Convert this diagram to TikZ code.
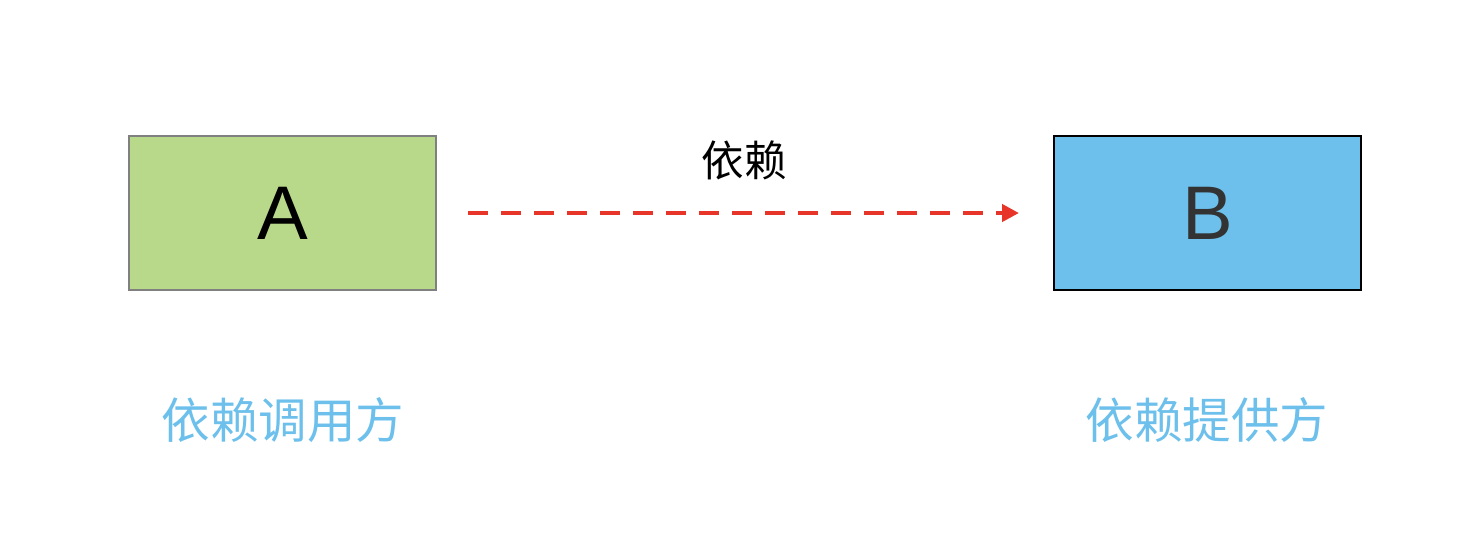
\documentclass[tikz,border=0pt]{standalone}
\usepackage{fontspec}
\setmainfont{Liberation Sans}
\newfontfamily\cjk{Noto Sans CJK SC}
\usetikzlibrary{arrows.meta}
\definecolor{agreen}{HTML}{B9D98A}
\definecolor{bblue}{HTML}{6DC0EB}
\definecolor{lblue}{HTML}{6DC0EB}
\definecolor{ared}{HTML}{E8352A}
\definecolor{agray}{HTML}{808080}
\tikzset{
  boxstyle/.style={minimum width=307pt, minimum height=154pt, inner sep=0pt, line width=2.5pt},
  capstyle/.style={text=lblue, font=\cjk\fontsize{48.5}{52}\selectfont},
  deparrow/.style={draw=ared, line width=4.5pt, dash pattern=on 20pt off 13pt, -{Triangle[length=17pt,width=17pt]}}
}
\begin{document}
\begin{tikzpicture}[x=1pt,y=-1pt]
\useasboundingbox (0,0) rectangle (1482,550);
\node[boxstyle, draw=agray, fill=agreen, font=\fontsize{76}{80}\selectfont] (A) at (282.5,213) {A};
\node[boxstyle, draw=black, fill=bblue, text={black!80}, font=\fontsize{76}{80}\selectfont] (B) at (1207.5,213) {B};
\coordinate (s) at (468,213);
\coordinate (e) at (1019,213);
\draw[deparrow] (s) -- (e);
\node[font=\cjk\fontsize{42.5}{46}\selectfont] (lab) at (744,160) {依赖};
\node[capstyle] (ca) at (283,420) {依赖调用方};
\node[capstyle] (cb) at (1207,420) {依赖提供方};
\end{tikzpicture}
\end{document}
